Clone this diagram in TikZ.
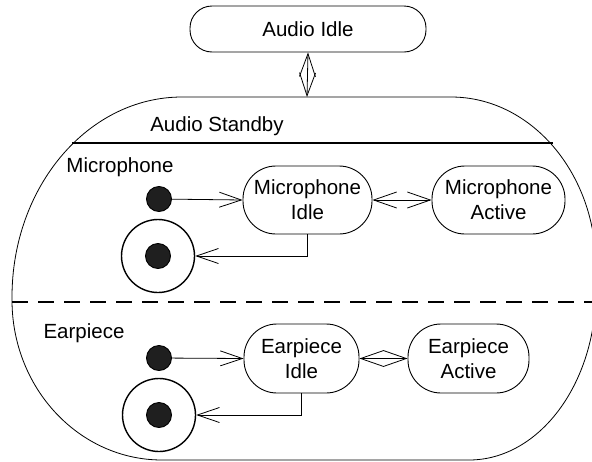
\documentclass[tikz,border=0pt]{standalone}
\usepackage{fontspec}
\setmainfont{Liberation Sans}
\usetikzlibrary{arrows.meta}
\tikzset{
  lbl/.style={font=\fontsize{20.5}{25}\selectfont, inner sep=0pt},
  statebox/.style={draw, line width=0.9pt, rounded corners=33pt, align=center,
     font=\fontsize{20.5}{25}\selectfont, inner sep=0pt},
  initdot/.style={circle, fill=black!88, draw=black, line width=0.9pt, minimum size=25pt, inner sep=0pt},
  finaldot/.style={circle, fill=black!88, draw=black, line width=0.9pt, minimum size=25pt, inner sep=0pt},
  finalring/.style={circle, draw, line width=1.4pt, minimum size=73pt, inner sep=0pt},
  trans/.style={draw, line width=0.8pt, -{Straight Barb[length=22pt,width=15pt,line width=0.8pt]}},
  btrans/.style={draw, line width=0.8pt, {Straight Barb[length=23pt,width=16pt,line width=0.8pt]}-{Straight Barb[length=23pt,width=16pt,line width=0.8pt]}},
}
\begin{document}
\begin{tikzpicture}[x=1pt,y=-1pt]
\useasboundingbox (0,0) rectangle (592,461);
% Audio Idle
\node[statebox, rounded corners=22pt, minimum width=236pt, minimum height=46pt] (idle) at (308,29) {Audio Idle};
% Audio Standby composite
\draw[line width=0.8pt] (12,297) .. controls (12,186.5) and (88.1,97) .. (182,97)
  -- (451,97)
  .. controls (531.1,97) and (596,173.1) .. (596,267)
  -- (596,290)
  .. controls (596,383.9) and (539.1,460) .. (469,460)
  -- (162,460)
  .. controls (79.2,460) and (12,388.4) .. (12,300) -- cycle;
\coordinate (sbtop) at (307,97);
\node[lbl] (standby) at (217,126) {Audio Standby};
\coordinate (hl) at (72,143);
\coordinate (hr) at (553,143);
\draw[line width=2pt] (hl) -- (hr);
\coordinate (dl) at (12,302);
\coordinate (dr) at (596,302);
\draw[line width=2pt, dash pattern=on 16pt off 10pt] (dl) -- (dr);
% top transition
\path[btrans] (idle.south) -- (sbtop);
% Microphone region
\node[lbl] (mic) at (120,167) {Microphone};
\node[initdot] (mi) at (159,199) {};
\node[finalring] (mf) at (158,256) {};
\node[finaldot] (mfd) at (158,256) {};
\node[statebox, minimum width=129pt, minimum height=68pt] (midle) at (307.5,200) {Microphone\\Idle};
\node[statebox, minimum width=133pt, minimum height=68pt] (mact) at (498.5,200) {Microphone\\Active};
\path[trans] (mi) -- (midle.west);
\path[btrans] (midle.east) -- (mact.west);
\path[trans] (midle.south) |- (mf.east);
% Earpiece region
\node[lbl] (ear) at (84,333) {Earpiece};
\node[initdot] (ei) at (159,358) {};
\node[finalring] (ef) at (159,415) {};
\node[finaldot] (efd) at (159,415) {};
\node[statebox, minimum width=115pt, minimum height=69pt] (eidle) at (301.5,358.5) {Earpiece\\Idle};
\node[statebox, minimum width=121pt, minimum height=69pt] (eact) at (468.5,358.5) {Earpiece\\Active};
\path[trans] (ei) -- (eidle.west);
\path[btrans] (eidle.east) -- (eact.west);
\path[trans] (eidle.south) |- (ef.east);
\end{tikzpicture}
\end{document}
